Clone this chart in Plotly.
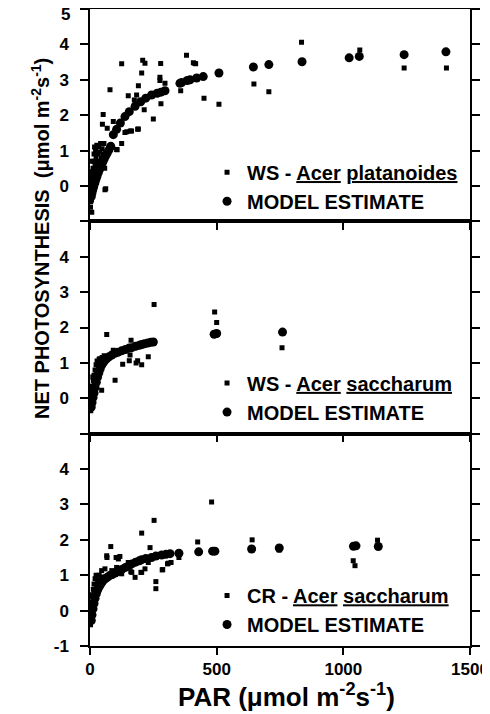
import plotly.graph_objects as go
from plotly.subplots import make_subplots

# ---------------- data ----------------
# Panel 1: WS - Acer platanoides (observed squares)
p1_obs_x = [835, 1065, 1240, 1407, 647, 706, 450, 509, 381, 414, 358, 279, 276, 276, 296, 280, 250,
            208, 217, 204, 191, 184, 175, 125, 79, 151, 214, 191, 164, 145, 125, 105, 92, 68, 52, 59,
            408, 417, 49, 138, 159, 188, 107, 62, 7,
            3, 5, 6, 8, 9, 10, 12, 12, 14, 15, 16, 18, 18, 20, 21, 22, 24, 25, 27, 28, 30, 32, 34, 36,
            38, 40, 42, 45, 48, 52, 55, 58, 4, 7, 10, 6, 2, 15, 26]
p1_obs_y = [4.06, 3.84, 3.33, 3.33, 2.88, 2.66, 2.48, 2.31, 3.69, 3.46, 2.69, 3.46, 3.07, 2.98, 2.90, 2.32, 1.89,
            3.55, 3.47, 3.19, 2.83, 2.57, 2.43, 3.45, 2.72, 2.55, 2.15, 1.61, 1.55, 1.53, 1.20, 1.03, 1.82, 1.63, 2.02, -0.11,
            3.48, 3.45, 1.74, 1.51, 1.55, 1.60, 1.02, -0.08, -0.74,
            -0.45, -0.30, -0.10, 0.10, -0.20, 0.30, 0.50, 0.00, 0.70, 0.20, 0.90, 0.40, 1.10, 0.60, 0.00, 1.00, 0.80, 0.30, 1.15, 0.50, 0.90, 0.70, 1.10, 0.40,
            0.95, 0.60, 1.20, 0.80, 1.05, 0.90, 1.20, 0.50, 0.20, 0.40, 0.70, -0.40, -0.60, -0.10, 0.10]
# Panel 1: model estimate (circles)
p1_mod_x = [5, 8, 10, 13, 16, 20, 24, 28, 33, 38, 44, 50, 56, 62, 68, 75, 82, 92, 105, 120, 138, 155, 178,
            200, 220, 243, 265, 280, 296, 355, 362, 384, 395, 421, 447, 509, 645, 706, 837, 1023, 1063, 1240, 1405]
p1_mod_y = [-0.30, -0.20, -0.12, -0.05, 0.03, 0.12, 0.20, 0.28, 0.38, 0.47, 0.57, 0.67, 0.76, 0.85, 0.93, 1.02, 1.12, 1.45, 1.60, 1.78, 1.96, 2.10, 2.25,
            2.38, 2.48, 2.57, 2.62, 2.65, 2.69, 2.90, 2.92, 2.98, 3.00, 3.05, 3.09, 3.19, 3.36, 3.43, 3.51, 3.62, 3.66, 3.71, 3.79]

# Panel 2: WS - Acer saccharum
p2_obs_x = [253, 492, 500, 758, 66, 162, 92, 158, 129, 155, 182, 188, 204, 230, 99, 59, 39, 46,
            3, 5, 6, 8, 9, 10, 12, 13, 15, 16, 18, 20, 22, 24, 26, 28, 30, 33, 36, 40, 44, 48, 52, 56, 4, 7, 11, 2]
p2_obs_y = [2.65, 2.44, 2.14, 1.43, 1.80, 1.64, 1.36, 1.22, 0.96, 1.06, 1.00, 1.06, 0.95, 1.17, 0.51, 1.17, 1.12, 0.23,
            -0.35, -0.15, 0.05, 0.20, -0.05, 0.35, 0.15, 0.50, 0.30, 0.65, 0.45, 0.80, 0.55, 0.95, 0.70, 1.05, 0.60, 0.90, 1.10, 0.80, 1.00, 1.15, 0.95, 1.20, 0.10, 0.30, 0.60, -0.30]
p2_mod_x = [5, 8, 12, 16, 20, 25, 30, 35, 40, 46, 52, 59, 66, 75, 86, 98, 110, 125, 140, 155, 165, 180,
            195, 204, 215, 228, 240, 250, 490, 500, 760]
p2_mod_y = [-0.25, -0.12, 0.02, 0.15, 0.30, 0.45, 0.60, 0.72, 0.83, 0.94, 1.00, 1.07, 1.12, 1.17, 1.22, 1.27, 1.30, 1.34, 1.38, 1.42, 1.43, 1.47,
            1.50, 1.52, 1.54, 1.56, 1.58, 1.59, 1.81, 1.83, 1.87]

# Panel 3: CR - Acer saccharum
p3_obs_x = [480, 253, 204, 82, 237, 425, 640, 747, 1135, 1039, 1046, 1050, 351, 309, 287, 260, 260, 230, 204,
            178, 161, 125, 105, 103, 118, 66, 67, 112, 46, 59, 165, 201, 217, 285, 306, 320, 151, 86,
            2, 3, 5, 6, 8, 9, 10, 12, 13, 15, 16, 18, 20, 22, 24, 26, 28, 30, 33, 36, 40, 44, 50, 4, 7, 11]
p3_obs_y = [3.07, 2.55, 2.19, 1.81, 1.78, 1.94, 2.00, 1.71, 1.99, 1.41, 1.27, 1.83, 1.50, 1.34, 1.16, 0.82, 0.62, 1.36, 1.08,
            0.94, 1.10, 1.04, 1.22, 1.50, 1.53, 1.55, 1.50, 1.46, 1.13, 1.18, 1.08, 1.08, 1.18, 1.15, 1.32, 1.36, 1.36, 1.13,
            -0.40, -0.20, 0.00, -0.30, 0.20, 0.00, 0.40, 0.15, 0.60, 0.35, 0.75, 0.50, 0.90, 0.60, 1.00, 0.70, 0.55, 0.85, 0.75, 1.00, 0.80, 0.95, 0.90, 0.25, 0.45, -0.10]
p3_mod_x = [5, 8, 12, 16, 20, 25, 30, 35, 40, 46, 52, 60, 68, 78, 88, 99, 110, 125, 140, 155, 165, 180, 195,
            204, 220, 243, 260, 283, 300, 316, 351, 429, 484, 493, 638, 747, 1040, 1050, 1138]
p3_mod_y = [-0.28, -0.12, 0.05, 0.20, 0.35, 0.48, 0.58, 0.66, 0.72, 0.79, 0.85, 0.90, 0.94, 0.99, 1.02, 1.06, 1.10, 1.16, 1.22, 1.28, 1.32, 1.37, 1.41,
            1.44, 1.47, 1.50, 1.54, 1.57, 1.59, 1.61, 1.62, 1.66, 1.68, 1.68, 1.74, 1.77, 1.82, 1.83, 1.81]

obs_names = ["WS - <u>Acer</u> <u>platanoides</u>",
             "WS - <u>Acer</u> <u>saccharum</u>",
             "CR - <u>Acer</u> <u>saccharum</u>"]
model_name = "MODEL ESTIMATE"

x_tickvals = [0, 500, 1000, 1500]
x_ticktext = ["0", "500", "1000", "1500"]
y_tickvals = [-1, 0, 1, 2, 3, 4, 5]
y_ticktext = [["", "0", "1", "2", "3", "4", ""],
              ["", "0", "1", "2", "3", "4", ""],
              ["-1", "0", "1", "2", "3", "4", ""]]
top_label = "5"   # top-panel label at y = 5, set as text so it is not clipped at the page edge

# ---------------- figure ----------------
FONT = "Liberation Sans, Arial, sans-serif"
fig = make_subplots(rows=3, cols=1, shared_xaxes=True, vertical_spacing=0)

panels = [(p1_obs_x, p1_obs_y, p1_mod_x, p1_mod_y),
          (p2_obs_x, p2_obs_y, p2_mod_x, p2_mod_y),
          (p3_obs_x, p3_obs_y, p3_mod_x, p3_mod_y)]
legend_ids = ["legend", "legend2", "legend3"]

for i, (ox, oy, mx, my) in enumerate(panels):
    fig.add_trace(go.Scatter(x=ox, y=oy, mode="markers", name=obs_names[i],
                             marker=dict(symbol="square", size=5, color="black"),
                             legend=legend_ids[i]), row=i + 1, col=1)
    fig.add_trace(go.Scatter(x=mx, y=my, mode="markers", name=model_name,
                             marker=dict(symbol="circle", size=9, color="black"),
                             legend=legend_ids[i]), row=i + 1, col=1)

tick_font = dict(family=FONT, size=17, color="black", weight="bold")
for i in range(3):
    fig.update_xaxes(row=i + 1, col=1, range=[0, 1500], tickvals=x_tickvals, ticktext=x_ticktext,
                     showticklabels=(i == 2), ticks="outside", ticklen=7, tickwidth=1.5,
                     tickcolor="black", showline=True, linewidth=1.5, linecolor="black",
                     mirror=True, showgrid=False, zeroline=False, automargin=False,
                     ticklabeloverflow="allow", tickfont=tick_font)
    fig.update_yaxes(row=i + 1, col=1, range=[-1, 5], tickvals=y_tickvals, ticktext=y_ticktext[i],
                     ticks="outside", ticklen=8, tickwidth=1.5, tickcolor="black",
                     showline=True, linewidth=1.5, linecolor="black", mirror="ticks",
                     showgrid=False, zeroline=False, ticklabelstandoff=8, automargin=False,
                     ticklabeloverflow="allow", tickfont=tick_font)

leg_common = dict(xanchor="left", yanchor="middle", bgcolor="rgba(0,0,0,0)",
                  font=dict(family=FONT, size=20, color="black", weight="bold"),
                  itemclick=False, itemdoubleclick=False)
# the page body has an 8px margin, so the figure is sized 8px smaller than the window
fig.update_layout(
    width=482, height=706,
    margin=dict(l=82, r=20, t=1, b=68, autoexpand=False),
    paper_bgcolor="white", plot_bgcolor="white",
    font=dict(family=FONT, color="black"),
    showlegend=True,
    legend=dict(x=0.308, y=0.721, **leg_common),
    legend2=dict(x=0.308, y=0.390, **leg_common),
    legend3=dict(x=0.308, y=0.0565, **leg_common),
    annotations=[
        dict(text=top_label, xref="paper", yref="paper",
             x=-18 / 380, y=(646 - 14) / 637, xanchor="right", yanchor="middle", showarrow=False,
             font=tick_font),
        dict(text="PAR (\u03bcmol m<sup>-2</sup>s<sup>-1</sup>)", xref="paper", yref="paper",
             x=0.518, y=-0.078, xanchor="center", yanchor="middle", showarrow=False,
             font=dict(family=FONT, size=26, color="black", weight="bold")),
        dict(text="NET PHOTOSYNTHESIS  (\u03bcmol m<sup>-2</sup>s<sup>-1</sup>)", xref="paper", yref="paper",
             x=-50 / 380, y=(646 - 239) / 637, xanchor="center", yanchor="middle", showarrow=False,
             textangle=-90, font=dict(family=FONT, size=20, color="black", weight="bold")),
    ],
)

fig.write_html("out.html")
